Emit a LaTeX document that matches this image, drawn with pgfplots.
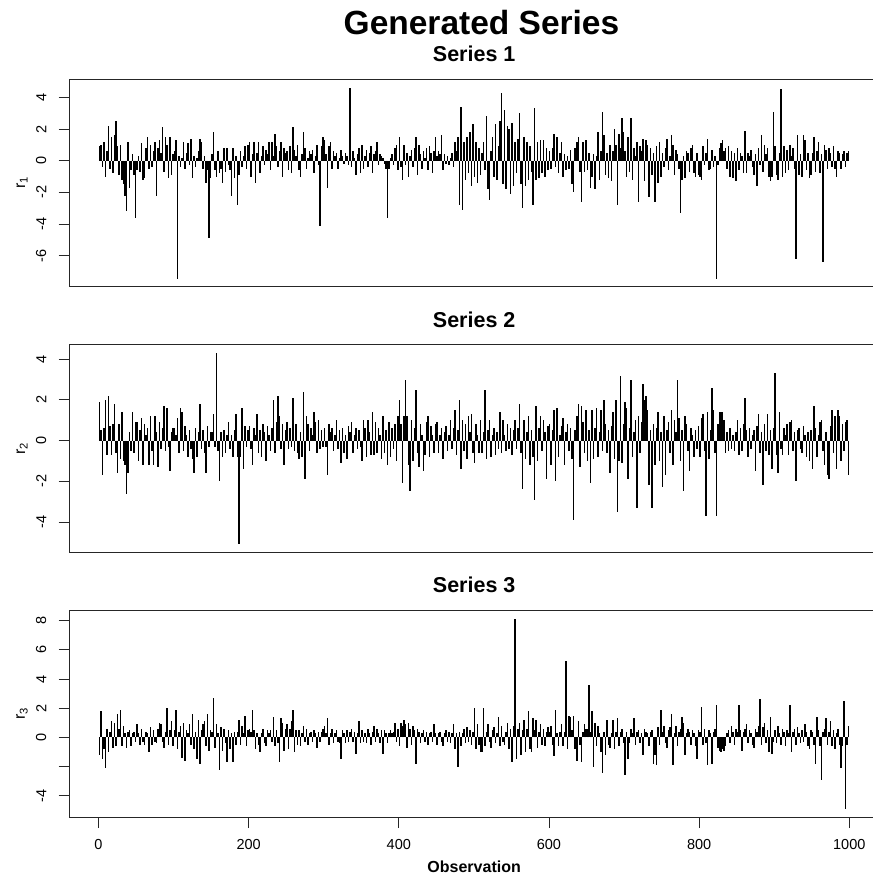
\documentclass[border=0pt]{standalone}
\usepackage{pgfplots}
\pgfplotsset{compat=1.18}
\usepackage{fontspec}
\setmainfont{Liberation Sans}
\begin{document}
\begin{tikzpicture}
\path[use as bounding box] (0pt,0pt) rectangle (872pt,-877pt);
\pgfplotsset{
  rpanel/.style={
    scale only axis, width=810.3pt, height=207.5pt,
    xmin=-39.3, xmax=1040,
    axis line style={black!85, line width=0.9pt},
    every tick/.style={black!85, line width=0.9pt},
    tick align=outside, major tick length=10.5pt,
    xtick pos=left, ytick pos=left,
    /pgf/number format/assume math mode=true,
    yticklabel style={rotate=90, anchor=south, inner sep=0pt, font=\fontsize{14.5}{14.5}\selectfont},
    yticklabel shift=12pt,
    xticklabel style={anchor=north, inner sep=0pt, font=\fontsize{14.5}{14.5}\selectfont},
    xticklabel shift=11pt,
    title style={font=\bfseries\fontsize{21.5}{21.5}\selectfont, at={(0.5,1)}, anchor=base, yshift=11.4pt},
    every axis y label/.style={at={(rel axis cs:-0.058,0.5)}, rotate=90, anchor=center, font=\fontsize{16}{16}\selectfont},
    every axis x label/.style={at={(rel axis cs:0.5,0)}, anchor=base, yshift=-54.3pt, font=\bfseries\fontsize{16}{16}\selectfont},
  },
  spikes/.style={ycomb, black, line width=1.5pt, line cap=butt, mark=none},
}
\node[font=\bfseries\fontsize{33.5}{33.5}\selectfont, anchor=base] at (481.5pt,-35pt) {Generated Series};

% ---------------- Series 1 ----------------
\begin{axis}[rpanel, at={(69pt,-286.7pt)}, anchor=south west,
  ymin=-7.96, ymax=5.15, ytick={-6,-4,-2,0,2,4}, yticklabels={-6,-4,-2,0,2,4},
  xtick=\empty, title={Series 1}, ylabel={r\textsubscript{1}}]
\addplot[spikes] table[header=false, row sep=\\, x expr=2*\coordindex+1, y index=0] {
0.9\\ 1.0\\ -0.4\\ 1.2\\ -1.0\\ 0.6\\ 2.2\\ -0.5\\ 1.5\\ -0.8\\ 1.6\\ 2.5\\ 0.9\\ -0.9\\ 1.0\\ -1.2\\ -1.5\\ -2.2\\ -3.2\\ 1.2\\ -1.7\\ -0.6\\ 0.4\\ -0.9\\ -3.6\\
-0.6\\ 0.3\\ -0.7\\ 1.1\\ -1.2\\ -1.1\\ 0.8\\ 1.5\\ -0.5\\ 1.0\\ -0.4\\ 0.6\\ 1.2\\ -2.2\\ 0.8\\ 1.3\\ 0.5\\ 2.1\\ -0.7\\ 1.5\\ 1.0\\ -1.1\\ 1.5\\ -0.9\\ 0.4\\
0.6\\ 1.3\\ -7.5\\ 0.3\\ -0.4\\ 0.2\\ 1.2\\ -0.5\\ 0.5\\ 1.1\\ -0.3\\ 1.4\\ -1.1\\ 0.3\\ -0.4\\ 0.2\\ 0.6\\ 1.4\\ 1.2\\ -0.5\\ 0.3\\ -1.4\\ -0.6\\ -4.9\\ -1.1\\
0.4\\ 1.8\\ -0.6\\ -1.0\\ 0.6\\ -0.8\\ -0.5\\ -1.4\\ 0.8\\ -0.7\\ 0.8\\ -0.3\\ -0.6\\ -2.2\\ 0.8\\ -1.1\\ 0.3\\ -2.8\\ -0.9\\ 0.6\\ -0.4\\ 0.3\\ 0.9\\ -0.5\\ 1.0\\
1.2\\ -1.0\\ 0.4\\ 1.2\\ -1.4\\ 0.5\\ 1.2\\ -0.8\\ 0.3\\ 0.9\\ -0.3\\ 0.7\\ 0.4\\ 1.2\\ -0.6\\ 1.2\\ 0.3\\ 1.7\\ 0.9\\ -0.4\\ 0.6\\ 1.2\\ -1.0\\ 0.8\\ 0.5\\
0.6\\ -0.6\\ 0.9\\ -0.8\\ 2.1\\ 0.7\\ 0.3\\ 1.0\\ -0.6\\ -1.0\\ 0.4\\ 1.8\\ 0.8\\ -0.5\\ 0.2\\ 0.6\\ 0.4\\ 0.7\\ -0.8\\ 0.3\\ 1.0\\ -0.3\\ -4.1\\ 0.9\\ 1.5\\
1.3\\ 0.4\\ -1.7\\ 0.9\\ 1.2\\ -0.5\\ 0.6\\ 0.3\\ 0.5\\ -0.5\\ 0.2\\ 0.7\\ 0.3\\ -0.2\\ 0.5\\ 0.3\\ -0.3\\ 4.6\\ -0.4\\ 0.6\\ 0.2\\ -0.9\\ 0.4\\ 0.8\\ -0.8\\
1.0\\ -0.5\\ 0.3\\ 0.7\\ -0.4\\ 0.5\\ 0.9\\ -0.8\\ 0.4\\ 0.6\\ 1.2\\ -0.3\\ 0.4\\ 0.3\\ 0.2\\ -0.2\\ -0.5\\ -3.6\\ -0.5\\ 0.2\\ 0.4\\ -0.3\\ 0.8\\ 1.0\\ -0.6\\
1.5\\ -0.4\\ -1.2\\ 1.0\\ -0.3\\ 0.5\\ -1.0\\ 0.3\\ 0.7\\ -0.4\\ 0.8\\ 1.5\\ -0.9\\ 1.0\\ 0.4\\ -0.5\\ 0.6\\ 0.2\\ 0.8\\ -0.6\\ 0.9\\ 0.5\\ -0.8\\ 0.6\\ 1.5\\
0.3\\ 0.6\\ 0.4\\ 1.6\\ -0.6\\ 0.4\\ -0.2\\ 0.3\\ -0.3\\ 0.2\\ 0.5\\ -0.4\\ 1.2\\ 0.6\\ 1.5\\ -2.8\\ 3.4\\ -3.1\\ 1.2\\ -1.2\\ 1.5\\ -0.8\\ 1.8\\ -1.6\\ 2.3\\
-1.0\\ 1.2\\ -1.4\\ 0.8\\ -0.9\\ 0.5\\ 1.2\\ -0.6\\ 2.8\\ -1.8\\ -2.5\\ 0.6\\ 1.5\\ -1.0\\ 2.3\\ -1.2\\ 0.9\\ 2.5\\ 4.3\\ -1.5\\ 3.2\\ -1.8\\ 2.2\\ 2.0\\ -2.1\\
2.4\\ -1.6\\ 1.2\\ -0.8\\ 1.4\\ 3.0\\ -1.5\\ -3.0\\ 1.5\\ -1.6\\ 1.2\\ -1.2\\ 0.9\\ -0.7\\ -2.8\\ 3.3\\ -1.2\\ 1.2\\ -1.1\\ 1.3\\ -0.8\\ 1.3\\ -1.0\\ 0.8\\ -0.6\\
0.6\\ -0.5\\ 0.8\\ 1.7\\ -0.4\\ 1.5\\ -0.8\\ 0.5\\ 1.2\\ -1.0\\ 0.4\\ -0.6\\ 0.3\\ -0.5\\ 0.7\\ -1.5\\ -2.0\\ 0.8\\ 1.2\\ 1.5\\ -0.7\\ -2.6\\ 1.2\\ -0.7\\ 1.3\\
-0.6\\ 0.5\\ -1.7\\ -1.0\\ 0.4\\ -1.8\\ 0.3\\ 1.8\\ -1.2\\ 0.6\\ 3.1\\ 1.6\\ -0.9\\ 0.5\\ -1.1\\ 1.0\\ -1.3\\ 0.6\\ 2.0\\ 1.0\\ -2.8\\ 1.7\\ 0.8\\ 2.7\\ 1.8\\
0.6\\ -1.0\\ 1.5\\ -0.7\\ 2.7\\ -1.2\\ 0.8\\ 0.3\\ 1.2\\ -2.6\\ 0.9\\ 0.6\\ 1.4\\ -1.3\\ 1.3\\ 1.0\\ -2.3\\ 0.8\\ -0.9\\ 0.5\\ -2.6\\ 0.9\\ -1.4\\ 1.2\\ -1.0\\
0.5\\ -0.4\\ 0.8\\ 1.4\\ -0.6\\ 0.3\\ 1.6\\ 1.0\\ -0.9\\ 0.7\\ 0.4\\ -0.5\\ -3.3\\ -1.2\\ 0.3\\ -1.1\\ 0.6\\ 0.5\\ -0.7\\ 0.8\\ 1.0\\ -0.8\\ -1.0\\ 0.5\\ -0.9\\
-1.0\\ -1.2\\ 0.9\\ -0.3\\ 0.5\\ 1.4\\ -0.6\\ -0.5\\ 0.7\\ -0.4\\ 0.3\\ -7.5\\ -0.3\\ 0.8\\ 1.1\\ 1.3\\ 0.6\\ 0.8\\ -0.5\\ 0.9\\ -1.0\\ 0.6\\ -1.1\\ 0.5\\ -1.3\\
0.8\\ -0.6\\ 0.5\\ 0.3\\ -0.8\\ 1.9\\ -0.8\\ 0.5\\ 0.3\\ 0.7\\ -0.4\\ -0.9\\ 0.4\\ -1.6\\ 0.8\\ -0.3\\ 1.6\\ -0.7\\ 1.0\\ 0.4\\ 0.8\\ -1.0\\ -1.3\\ -1.0\\ 3.1\\
0.9\\ -0.9\\ -1.2\\ 0.5\\ 4.5\\ -1.0\\ 0.9\\ -0.8\\ 0.7\\ -0.6\\ 1.0\\ 0.3\\ 0.8\\ -0.5\\ -6.2\\ 1.6\\ -0.9\\ 0.4\\ -1.0\\ 1.6\\ 1.3\\ -0.6\\ 0.5\\ -1.1\\ -0.9\\
0.5\\ 1.5\\ -0.7\\ 0.6\\ 1.2\\ -0.8\\ 0.4\\ -6.4\\ 1.0\\ 0.7\\ -0.5\\ 0.8\\ 0.5\\ -0.4\\ 0.9\\ -0.5\\ -1.0\\ 0.6\\ 0.5\\ -0.5\\ 0.4\\ 0.6\\ -0.4\\ 0.5\\ 0.6\\
};
\end{axis}

% ---------------- Series 2 ----------------
\begin{axis}[rpanel, at={(69pt,-552.3pt)}, anchor=south west,
  ymin=-5.49, ymax=4.71, ytick={-4,-2,0,2,4}, yticklabels={-4,-2,0,2,4},
  xtick=\empty, title={Series 2}, ylabel={r\textsubscript{2}}]
\addplot[spikes] table[header=false, row sep=\\, x expr=2*\coordindex+1, y index=0] {
1.9\\ 0.5\\ -1.7\\ 0.6\\ 2.0\\ -0.7\\ 2.2\\ 0.7\\ -0.7\\ 0.8\\ 1.8\\ -0.6\\ -1.6\\ 0.8\\ -0.9\\ 1.4\\ -1.0\\ -1.2\\ -2.6\\ -1.6\\ 0.4\\ -0.5\\ 1.4\\ -0.6\\ 0.9\\
0.9\\ -1.0\\ 0.5\\ 1.1\\ -1.2\\ 0.8\\ 0.3\\ 0.6\\ -1.2\\ 1.2\\ -0.5\\ -1.2\\ 1.2\\ 0.4\\ -1.3\\ 0.9\\ -0.4\\ 0.6\\ 1.7\\ -0.5\\ 1.6\\ -0.3\\ -1.5\\ 0.4\\ 0.6\\
0.6\\ 0.3\\ 1.1\\ -0.6\\ 1.6\\ 1.4\\ -0.5\\ 0.7\\ 0.3\\ -0.8\\ 0.5\\ -0.4\\ -0.9\\ -1.6\\ 0.6\\ -0.8\\ 0.4\\ 1.8\\ -0.4\\ 0.5\\ -0.6\\ -1.6\\ 0.7\\ -0.3\\ 0.4\\
0.4\\ 1.3\\ -0.3\\ 4.3\\ -0.5\\ -2.0\\ 0.4\\ -0.8\\ 0.5\\ -0.6\\ 0.3\\ 0.9\\ -0.4\\ 0.3\\ -0.8\\ 0.5\\ 1.3\\ -0.8\\ -5.1\\ -0.8\\ 1.6\\ -1.4\\ 0.7\\ -0.3\\ 0.5\\
0.7\\ -0.4\\ -1.2\\ 0.6\\ 0.3\\ 1.3\\ -0.6\\ 0.5\\ -0.8\\ 0.8\\ 0.4\\ -1.0\\ 0.7\\ 0.3\\ -0.5\\ 0.6\\ 2.0\\ -0.6\\ 0.9\\ 2.2\\ 1.2\\ -0.4\\ 0.8\\ -1.2\\ 0.5\\
0.9\\ -0.4\\ 0.6\\ -0.3\\ 2.1\\ -0.5\\ 0.8\\ -0.6\\ -0.9\\ 0.4\\ -0.8\\ 2.4\\ -1.9\\ 1.2\\ 0.8\\ -0.5\\ 0.6\\ 0.3\\ 1.4\\ 0.9\\ -0.6\\ 1.0\\ -0.4\\ 0.5\\ -0.3\\
0.6\\ -0.3\\ -1.7\\ 0.8\\ 0.4\\ 0.6\\ -0.5\\ 0.3\\ 1.0\\ -0.4\\ 0.5\\ -1.1\\ 0.6\\ -0.6\\ 0.3\\ -0.9\\ 0.7\\ 0.4\\ 0.9\\ -0.6\\ 0.3\\ 0.6\\ -0.4\\ 0.5\\ -0.3\\
-1.0\\ 1.0\\ 0.6\\ -0.8\\ 1.0\\ 0.4\\ -0.7\\ 1.4\\ -0.7\\ 0.9\\ -0.6\\ 0.6\\ 0.3\\ -0.9\\ 1.2\\ -0.6\\ 0.5\\ -1.2\\ 0.9\\ -0.8\\ 0.6\\ -0.4\\ 0.8\\ -1.0\\ 1.2\\
2.0\\ 0.8\\ -2.1\\ 1.2\\ 3.0\\ 1.2\\ -1.2\\ -2.5\\ 1.0\\ -1.0\\ 0.6\\ 2.5\\ -0.6\\ -1.3\\ 0.8\\ 0.3\\ -1.5\\ -0.7\\ 0.9\\ 1.2\\ -0.8\\ 0.7\\ 0.3\\ -0.6\\ 0.8\\
0.9\\ -0.6\\ 0.3\\ 0.6\\ -0.9\\ 0.4\\ 0.7\\ -0.5\\ 0.3\\ 1.0\\ -0.4\\ 0.6\\ 1.5\\ -0.7\\ 0.5\\ 2.0\\ -1.4\\ 1.0\\ -0.5\\ 0.8\\ -0.9\\ 1.2\\ 0.4\\ 1.3\\ -0.6\\
-1.1\\ 0.8\\ 0.3\\ -0.6\\ 1.0\\ -0.6\\ 0.4\\ 2.5\\ -0.9\\ 0.5\\ 1.0\\ -0.8\\ 0.3\\ 0.6\\ -0.7\\ 0.4\\ -0.4\\ 1.4\\ -0.6\\ 1.0\\ 0.3\\ -0.5\\ 0.8\\ -0.4\\ 0.6\\
-0.7\\ 0.5\\ 1.0\\ -0.4\\ 0.6\\ 1.8\\ -0.6\\ -2.4\\ 1.0\\ -0.9\\ 0.4\\ 1.2\\ -1.2\\ 0.5\\ -0.8\\ -2.9\\ 1.7\\ -1.0\\ 0.6\\ 1.2\\ -0.5\\ 1.0\\ 0.4\\ -1.9\\ 0.7\\
0.8\\ -1.2\\ 0.5\\ 1.5\\ -2.0\\ 1.6\\ -0.8\\ 0.3\\ 0.7\\ 1.1\\ -1.2\\ 0.4\\ 0.8\\ -0.5\\ 0.6\\ -0.9\\ -3.9\\ 0.5\\ 1.2\\ 1.8\\ -1.3\\ 1.7\\ 0.9\\ -0.6\\ 1.5\\
-1.0\\ 0.5\\ -2.1\\ 1.5\\ -0.9\\ 0.6\\ 1.6\\ -0.8\\ 0.4\\ 1.5\\ -0.5\\ 2.0\\ 0.8\\ -0.6\\ 0.5\\ -1.6\\ 0.7\\ 1.4\\ -0.9\\ 2.0\\ -3.5\\ -1.0\\ 3.2\\ -1.1\\ 0.8\\
1.9\\ 1.6\\ -1.9\\ 0.6\\ 3.0\\ -0.8\\ 0.4\\ 1.0\\ -3.3\\ 1.2\\ -0.6\\ 0.9\\ 2.8\\ 2.0\\ 2.2\\ 1.5\\ -2.2\\ 0.5\\ -3.3\\ 0.8\\ -1.2\\ 0.6\\ 1.4\\ -1.0\\ 0.4\\
-2.3\\ 1.2\\ -1.7\\ 0.5\\ 0.9\\ -0.6\\ 1.5\\ -1.2\\ 1.0\\ 0.4\\ 3.0\\ 1.1\\ -1.0\\ 0.5\\ -2.5\\ 1.2\\ 0.8\\ -0.5\\ -1.5\\ 0.6\\ 0.3\\ -0.8\\ 0.5\\ -0.4\\ 0.7\\
-0.8\\ 1.1\\ 1.3\\ -0.5\\ -3.7\\ 1.4\\ -0.9\\ 0.5\\ 2.6\\ 1.5\\ -0.6\\ -3.7\\ 0.8\\ 1.4\\ 1.4\\ 1.4\\ 1.0\\ -0.6\\ 0.4\\ -0.5\\ 0.6\\ -0.4\\ 0.3\\ -0.5\\ 0.4\\
1.0\\ -0.7\\ 0.6\\ -0.5\\ 0.8\\ 2.1\\ 0.5\\ -0.8\\ 0.6\\ -0.4\\ 0.3\\ 0.5\\ -1.5\\ 0.7\\ 1.3\\ -0.6\\ 0.4\\ -2.2\\ 0.8\\ -0.5\\ 1.3\\ -0.7\\ 0.5\\ -1.4\\ 0.6\\
3.3\\ -0.7\\ -1.6\\ 1.4\\ -0.4\\ -0.7\\ 0.6\\ 0.3\\ 0.8\\ -0.7\\ 0.9\\ 1.0\\ -0.5\\ 0.4\\ -2.0\\ 0.5\\ 0.6\\ -0.4\\ -0.6\\ 0.7\\ 0.3\\ -0.8\\ 0.4\\ -1.0\\ 0.5\\
-1.4\\ 1.7\\ 0.6\\ -0.8\\ 0.3\\ 0.9\\ 1.0\\ -0.5\\ -1.2\\ 0.4\\ -1.7\\ -1.9\\ 0.7\\ 1.5\\ -0.6\\ 1.2\\ -1.4\\ 1.5\\ 1.2\\ -1.0\\ 0.8\\ -0.5\\ 0.9\\ 1.0\\ -1.7\\
};
\end{axis}

% ---------------- Series 3 ----------------
\begin{axis}[rpanel, at={(69pt,-817.7pt)}, anchor=south west,
  ymin=-5.49, ymax=8.71, ytick={-4,-2,0,2,4,6,8}, yticklabels={-4,,0,2,4,6,8},
  xtick={0,200,400,600,800,1000}, xticklabels={0,200,400,600,800,1000},
  title={Series 3}, ylabel={r\textsubscript{3}}, xlabel={Observation}]
\addplot[spikes] table[header=false, row sep=\\, x expr=2*\coordindex+1, y index=0] {
-1.2\\ 1.8\\ -1.5\\ -0.8\\ -2.1\\ 0.6\\ -1.0\\ 0.4\\ 1.1\\ -0.7\\ 1.0\\ -0.6\\ 1.6\\ 0.6\\ 1.9\\ -0.6\\ 0.8\\ 0.3\\ -0.7\\ 0.4\\ 0.5\\ -0.6\\ 0.3\\ 0.4\\ -0.3\\
0.9\\ 0.3\\ -0.5\\ 0.6\\ -0.3\\ -0.5\\ 0.4\\ 0.3\\ -1.0\\ 0.7\\ -0.5\\ 0.5\\ -0.3\\ -0.4\\ 0.6\\ 1.0\\ 0.9\\ -0.3\\ -0.7\\ 0.4\\ 2.0\\ -0.5\\ 0.5\\ 1.1\\ -0.6\\
0.5\\ 1.9\\ -0.8\\ 0.4\\ 0.8\\ -1.4\\ 1.0\\ -1.6\\ 0.5\\ 0.3\\ 0.9\\ -0.5\\ 1.6\\ -0.8\\ 0.4\\ -1.5\\ 1.2\\ -1.8\\ 0.5\\ 0.9\\ 1.1\\ -0.6\\ 1.6\\ -0.9\\ 0.5\\
0.4\\ 2.7\\ -0.7\\ 0.9\\ 0.3\\ -2.2\\ 0.7\\ -0.9\\ 0.6\\ -0.4\\ -1.7\\ 0.5\\ -0.8\\ 0.3\\ -1.7\\ 0.4\\ -0.5\\ 0.4\\ 1.2\\ -0.5\\ 0.8\\ 0.3\\ 1.5\\ -0.6\\ 0.5\\
0.6\\ 0.4\\ 1.9\\ 0.5\\ -0.8\\ 0.3\\ -0.5\\ -1.0\\ 0.3\\ 0.6\\ -0.4\\ -0.6\\ 0.5\\ 0.3\\ 0.5\\ -0.3\\ 1.4\\ -0.6\\ 0.5\\ -0.4\\ -1.7\\ 1.3\\ 1.0\\ -0.9\\ 0.6\\
0.9\\ -0.8\\ 0.6\\ 1.1\\ 1.9\\ -1.0\\ 0.5\\ -0.5\\ 0.5\\ -0.6\\ 0.3\\ 0.8\\ -0.3\\ 0.6\\ -0.5\\ 0.3\\ 0.4\\ -0.3\\ 0.5\\ 0.3\\ -0.7\\ 0.4\\ -0.3\\ 0.4\\ 0.6\\
0.8\\ 0.3\\ 1.3\\ -0.5\\ 0.3\\ 0.6\\ -0.4\\ 0.3\\ 0.5\\ -0.3\\ -0.4\\ -1.5\\ 0.5\\ 0.3\\ -0.4\\ 0.5\\ -0.3\\ 0.4\\ 0.6\\ -0.3\\ 0.4\\ -1.1\\ 0.3\\ 1.1\\ -0.4\\
0.5\\ -0.3\\ 0.3\\ -0.4\\ 0.6\\ 0.3\\ -0.5\\ 0.4\\ 0.8\\ -0.3\\ 0.6\\ 0.3\\ -0.4\\ 0.5\\ -1.1\\ 0.5\\ 0.3\\ -0.4\\ 0.3\\ 0.5\\ 0.3\\ 0.4\\ 1.0\\ -0.3\\ 0.6\\
-0.6\\ 1.0\\ 0.8\\ 1.2\\ 0.9\\ -0.7\\ 1.0\\ 0.6\\ -0.5\\ 0.8\\ 0.5\\ -1.8\\ 0.6\\ 0.4\\ -0.4\\ 0.3\\ 0.5\\ -0.3\\ 0.4\\ -0.5\\ 0.3\\ 0.4\\ -0.3\\ 0.9\\ 0.3\\
-0.5\\ 0.3\\ 0.4\\ -0.3\\ -0.6\\ 0.3\\ 0.5\\ -0.3\\ 0.4\\ -0.4\\ 0.3\\ 0.9\\ -0.8\\ 0.3\\ -2.0\\ 0.4\\ -0.6\\ 0.3\\ 0.6\\ -0.4\\ 0.7\\ -0.3\\ 0.5\\ -0.5\\ 0.4\\
2.0\\ -0.8\\ 0.9\\ -0.5\\ -1.0\\ -1.0\\ 2.0\\ -0.6\\ 0.4\\ 0.9\\ -0.3\\ -0.7\\ 0.5\\ 0.7\\ -0.4\\ 0.3\\ 1.4\\ -0.6\\ 0.8\\ -0.3\\ -0.5\\ 0.4\\ 1.0\\ -0.8\\ 0.6\\
-1.7\\ 0.8\\ 8.1\\ -1.5\\ 0.6\\ 1.0\\ -1.2\\ 0.5\\ 1.2\\ -1.0\\ 0.6\\ 1.8\\ -0.8\\ -1.0\\ 1.3\\ 0.5\\ 1.2\\ -0.7\\ 0.4\\ 0.9\\ -0.5\\ 0.6\\ -0.6\\ 0.4\\ 0.7\\
0.4\\ 0.8\\ -0.5\\ -1.3\\ 1.9\\ 0.3\\ -0.6\\ 0.4\\ 0.9\\ -0.6\\ 0.4\\ 5.2\\ -0.8\\ 1.5\\ 1.4\\ 0.5\\ 1.5\\ -0.8\\ -1.6\\ 1.1\\ -0.5\\ -1.7\\ 0.4\\ 0.9\\ 0.6\\
0.6\\ 3.6\\ 0.4\\ 1.8\\ -2.0\\ 1.0\\ -0.6\\ 0.8\\ 0.3\\ -1.0\\ -2.4\\ 0.4\\ -1.2\\ 1.2\\ -0.5\\ -0.7\\ 0.3\\ 1.2\\ -0.8\\ 0.4\\ 1.3\\ -0.6\\ 0.4\\ 0.6\\ -0.4\\
-2.6\\ 0.4\\ -1.5\\ -0.4\\ 0.6\\ 0.3\\ 1.3\\ -0.5\\ 0.4\\ 0.5\\ -0.4\\ 0.3\\ -1.2\\ 0.6\\ 0.4\\ 0.3\\ -0.6\\ 0.4\\ 0.5\\ -1.8\\ -1.2\\ -1.9\\ 0.7\\ -0.5\\ 1.9\\
0.4\\ 0.8\\ -0.4\\ -0.7\\ 0.5\\ 0.7\\ 1.6\\ -1.9\\ 0.3\\ 0.8\\ -0.6\\ 0.4\\ 0.6\\ 1.4\\ 1.0\\ -1.2\\ 0.3\\ 0.6\\ 0.4\\ -0.5\\ 0.5\\ 0.3\\ -0.6\\ -1.5\\ 0.5\\
0.4\\ 2.1\\ -0.5\\ 0.6\\ -0.4\\ -1.9\\ 0.5\\ 0.3\\ -1.8\\ 0.4\\ 0.6\\ 2.2\\ -0.7\\ -0.9\\ -1.0\\ -0.8\\ -0.9\\ -0.6\\ 0.3\\ 0.5\\ -0.4\\ 0.8\\ 0.4\\ -0.5\\ 0.6\\
0.4\\ 2.2\\ 0.5\\ -0.9\\ 0.4\\ 0.6\\ 0.9\\ -0.4\\ 0.5\\ 0.3\\ -0.5\\ -0.7\\ 0.6\\ 0.4\\ 0.8\\ 2.6\\ -0.5\\ 0.7\\ 1.0\\ -0.4\\ 0.5\\ -1.0\\ 1.4\\ -1.1\\ -0.3\\
0.5\\ -0.4\\ 0.8\\ 0.3\\ -0.5\\ 0.6\\ 0.4\\ -0.6\\ 0.5\\ 0.3\\ 2.2\\ -1.0\\ 0.4\\ 0.6\\ -0.5\\ 0.7\\ 0.3\\ -0.4\\ 0.5\\ -0.3\\ 0.9\\ 0.4\\ -0.6\\ -0.8\\ 0.5\\
0.4\\ -0.5\\ -1.8\\ 1.4\\ 0.5\\ -0.6\\ -2.9\\ 0.4\\ 0.6\\ 1.3\\ -0.5\\ 0.4\\ 1.1\\ -0.6\\ 0.5\\ -0.8\\ 0.3\\ 0.6\\ -0.5\\ -2.1\\ -0.6\\ 2.5\\ -4.9\\ -0.5\\ 0.8\\
};
\end{axis}
\end{tikzpicture}
\end{document}
